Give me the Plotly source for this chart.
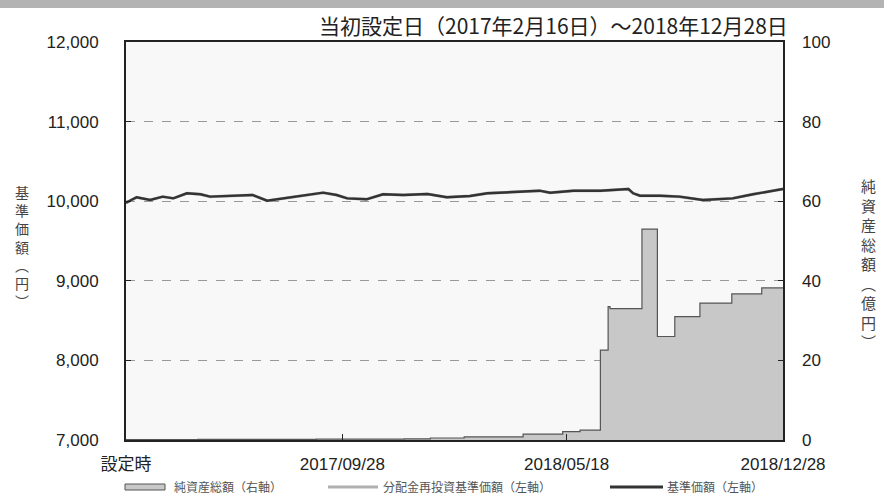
import plotly.graph_objects as go

# Net assets (right axis, 億円) - step data
na_dates = ["2017-02-16", "2017-05-01", "2017-09-01", "2017-12-01", "2017-12-28",
            "2018-02-01", "2018-04-03", "2018-05-14", "2018-06-01", "2018-06-22",
            "2018-06-30", "2018-07-02", "2018-08-04", "2018-08-20", "2018-09-07",
            "2018-10-03", "2018-11-05", "2018-12-06", "2018-12-28"]
na_values = [0.1, 0.15, 0.2, 0.3, 0.5,
             0.8, 1.5, 2.1, 2.5, 22.6,
             33.5, 33.0, 53.0, 26.0, 31.0,
             34.4, 36.7, 38.2, 38.2]

# NAV (left axis, 円)
nav_dates = ["2017-02-16", "2017-02-17", "2017-02-27", "2017-03-13", "2017-03-26", "2017-04-06",
             "2017-04-20", "2017-05-04", "2017-05-14", "2017-06-04", "2017-06-27",
             "2017-07-12", "2017-08-02", "2017-08-15", "2017-09-08", "2017-09-22",
             "2017-10-03", "2017-10-23", "2017-11-09", "2017-11-30", "2017-12-25",
             "2018-01-14", "2018-02-07", "2018-02-25", "2018-03-10", "2018-03-17",
             "2018-03-31", "2018-04-20", "2018-05-01", "2018-05-25", "2018-06-22",
             "2018-07-21", "2018-07-26", "2018-08-02", "2018-08-23", "2018-09-12",
             "2018-10-06", "2018-10-24", "2018-11-06", "2018-11-27", "2018-12-14",
             "2018-12-28"]
nav_values = [10000, 9986, 10049, 10015, 10057, 10036,
              10099, 10087, 10057, 10065, 10078,
              10006, 10040, 10065, 10107, 10078,
              10036, 10024, 10087, 10078, 10090,
              10049, 10065, 10099, 10107, 10116,
              10128, 10132, 10107, 10132, 10132,
              10153, 10099, 10069, 10069, 10057,
              10015, 10028, 10036, 10087, 10120,
              10153]

tick_vals = ["2017-02-16", "2017-09-28", "2018-05-18", "2018-12-28"]
tick_text = ["設定時", "2017/09/28", "2018/05/18", "2018/12/28"]

legend_labels = ["純資産総額（右軸）", "分配金再投資基準価額（左軸）", "基準価額（左軸）"]

FONT = "Liberation Sans, Arial, Noto Sans CJK JP"
JP = "Noto Sans CJK JP"

fig = go.Figure()
fig.add_trace(go.Scatter(
    x=na_dates, y=na_values, yaxis="y2", mode="lines", line_shape="hv",
    line=dict(color="#555555", width=1.2), fill="tozeroy", fillcolor="#c8c8c8",
    name=legend_labels[0], showlegend=False))
fig.add_trace(go.Scatter(
    x=nav_dates, y=nav_values, mode="lines",
    line=dict(color="#b8b8b8", width=3), name=legend_labels[1], showlegend=False))
fig.add_trace(go.Scatter(
    x=nav_dates, y=nav_values, mode="lines",
    line=dict(color="#333333", width=2.4), name=legend_labels[2], showlegend=False))

fig.update_layout(
    width=884, height=495,
    margin=dict(l=126, r=101, t=42, b=55, autoexpand=False),
    paper_bgcolor="white", plot_bgcolor="#f8f8f8",
    font=dict(family=FONT, size=17, color="#333333"),
    showlegend=False,
    xaxis=dict(type="date", range=["2017-02-16", "2018-12-28"],
               tickvals=tick_vals, ticktext=tick_text, ticks="inside", ticklen=6,
               tickcolor="#222222", showgrid=False, showline=True, linecolor="#222222",
               linewidth=2, mirror=True, zeroline=False, ticklabelstandoff=8,
               tickfont=dict(size=17, family=FONT, color="#222222")),
    yaxis=dict(range=[7000, 12000], tickvals=[7000, 8000, 9000, 10000, 11000, 12000],
               tickformat=",d", ticks="inside", ticklen=5, tickcolor="#222222",
               showgrid=True, gridcolor="#999999", griddash="dash", gridwidth=1,
               showline=True, linecolor="#222222", linewidth=2, mirror=True, zeroline=False,
               ticklabelstandoff=22, tickfont=dict(color="#222222")),
    yaxis2=dict(range=[0, 100], tickvals=[0, 20, 40, 60, 80, 100], overlaying="y",
                side="right", ticks="inside", ticklen=5, tickcolor="#222222",
                showgrid=False, zeroline=False, showline=False, ticklabelstandoff=18,
                tickfont=dict(color="#222222")),
)

# top grey band
fig.add_shape(type="rect", xref="paper", yref="paper", x0=-0.195, x1=1.16,
              y0=1.0854, y1=1.11, fillcolor="#b3b3b3", line=dict(width=0), layer="above")

fig.add_annotation(text="当初設定日（2017年2月16日）～2018年12月28日", xref="paper", yref="paper",
                   x=1.011, y=1.043, xanchor="right", yanchor="middle", showarrow=False,
                   font=dict(size=21, family=JP, color="#222222"))

fig.add_annotation(text="<br>".join(list("基準価額︵円︶")), xref="paper", yref="paper",
                   x=-0.1583, y=0.4857, xanchor="center", yanchor="middle", showarrow=False,
                   font=dict(size=14, family=JP, color="#444444"))
fig.add_annotation(text="<br>".join(list("純資産総額︵億円︶")), xref="paper", yref="paper",
                   x=0.1294 + 1, y=0.4447, xanchor="center", yanchor="middle", showarrow=False,
                   font=dict(size=15, family=JP, color="#444444"))

# manual legend (pixel positions converted to paper coords)
def px_x(p):
    return (p - 126) / 657.0

def px_y(p):
    return (440 - p) / 398.0

ly = px_y(487)
fig.add_shape(type="rect", xref="paper", yref="paper", x0=px_x(125), x1=px_x(165),
              y0=px_y(490), y1=px_y(484), fillcolor="#c8c8c8",
              line=dict(color="#555555", width=1))
fig.add_shape(type="line", xref="paper", yref="paper", x0=px_x(328), x1=px_x(378),
              y0=ly, y1=ly, line=dict(color="#b0b0b0", width=3))
fig.add_shape(type="line", xref="paper", yref="paper", x0=px_x(610), x1=px_x(663),
              y0=ly, y1=ly, line=dict(color="#333333", width=3))
for label, xp in zip(legend_labels, [172, 381, 665]):
    fig.add_annotation(text=label, xref="paper", yref="paper", x=px_x(xp), y=ly,
                       xanchor="left", yanchor="middle", showarrow=False,
                       font=dict(size=12, family=JP, color="#555555"))

fig.write_html("out.html", config={"displayModeBar": False},
               post_script="document.body.style.margin='0';")
